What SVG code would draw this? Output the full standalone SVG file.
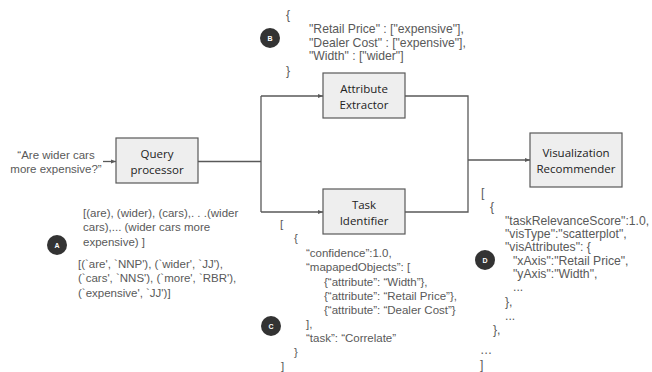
<svg xmlns="http://www.w3.org/2000/svg" width="652" height="372" viewBox="0 0 652 372">
<defs>
<style>
.box{fill:#eeeeee;stroke:#595959;stroke-width:1.2}
.lbl{font-family:"Open Sans","Liberation Sans",sans-serif;font-size:11.5px;fill:#222;text-anchor:middle}
.t{font-family:"Liberation Sans",Arial,sans-serif;font-size:12.2px;fill:#595959}
.s{font-size:11.5px}
.badge{fill:#333}
.bt{font-family:"Liberation Sans",Arial,sans-serif;font-size:7px;font-weight:bold;fill:#fff;text-anchor:middle}
.ln{fill:none;stroke:#595959;stroke-width:1.3}
</style>
<marker id="ah" viewBox="0 0 10 10" refX="10" refY="5" markerWidth="5" markerHeight="5" orient="auto" markerUnits="userSpaceOnUse">
<path d="M0,1 L10,5 L0,9 z" fill="#595959"/>
</marker>
</defs>
<rect width="652" height="372" fill="#fff"/>
<g id="connectors">
<path class="ln" d="M103,161.5 H116" marker-end="url(#ah)"/>
<path class="ln" d="M198,161.5 H261 M261,96 V212"/>
<path class="ln" d="M261,96 H323" marker-end="url(#ah)"/>
<path class="ln" d="M261,212 H323" marker-end="url(#ah)"/>
<path class="ln" d="M405,96 H468 V212 H405"/>
<path class="ln" d="M468,160 H530" marker-end="url(#ah)"/>
</g>
<g id="query-processor">
<rect class="box" x="116" y="138" width="82" height="45"/>
<text class="lbl" x="157" y="158">Query</text>
<text class="lbl" x="157" y="174">processor</text>
</g>
<g id="attribute-extractor">
<rect class="box" x="323" y="73" width="82" height="45"/>
<text class="lbl" x="364" y="93">Attribute</text>
<text class="lbl" x="364" y="109">Extractor</text>
</g>
<g id="task-identifier">
<rect class="box" x="323" y="189" width="82" height="45"/>
<text class="lbl" x="364" y="209">Task</text>
<text class="lbl" x="364" y="225">Identifier</text>
</g>
<g id="visualization-recommender">
<rect class="box" x="530" y="133" width="92" height="54"/>
<text class="lbl" x="576" y="157">Visualization</text>
<text class="lbl" x="576" y="173">Recommender</text>
</g>
<g id="input">
<text class="t s" x="56" y="159" text-anchor="middle">“Are wider cars</text>
<text class="t s" x="56" y="173" text-anchor="middle">more expensive?”</text>
</g>
<g id="output-a">
<circle class="badge" cx="57" cy="245" r="10"/>
<text class="bt" x="57" y="247.5">A</text>
<text class="t s" x="83" y="216.5">[(are), (wider), (cars),. . .(wider</text>
<text class="t s" x="83" y="231">cars),... (wider cars more</text>
<text class="t s" x="83" y="245.5">expensive) ]</text>
<text class="t s" x="78" y="267.5">[(`are', `NNP'), (`wider', `JJ'),</text>
<text class="t s" x="78" y="282">(`cars', `NNS'), (`more', `RBR'),</text>
<text class="t s" x="78" y="296.5">(`expensive', `JJ')]</text>
</g>
<g id="output-b">
<circle class="badge" cx="270" cy="38" r="10"/>
<text class="bt" x="270" y="40.5">B</text>
<text class="t" x="286" y="19">{</text>
<text class="t" x="309" y="32.5">"Retail Price" : ["expensive"],</text>
<text class="t" x="309" y="46.5">"Dealer Cost" : ["expensive"],</text>
<text class="t" x="309" y="60">"Width" : ["wider"]</text>
<text class="t" x="286" y="74.5">}</text>
</g>
<g id="output-c">
<circle class="badge" cx="271" cy="326" r="10"/>
<text class="bt" x="271" y="328.5">C</text>
<text class="t s" x="280" y="227.5">[</text>
<text class="t s" x="294" y="241.5">{</text>
<text class="t s" x="306" y="256.5">“confidence”:1.0,</text>
<text class="t s" x="306" y="271">“mapapedObjects”:  [</text>
<text class="t s" x="324" y="285.5">{“attribute”: “Width”},</text>
<text class="t s" x="324" y="299.5">{“attribute”: “Retail Price”},</text>
<text class="t s" x="324" y="313.5">{“attribute”: “Dealer Cost”}</text>
<text class="t s" x="306" y="327.5">],</text>
<text class="t s" x="306" y="342">“task”: “Correlate”</text>
<text class="t s" x="294" y="356">}</text>
<text class="t s" x="281" y="370">]</text>
</g>
<g id="output-d">
<circle class="badge" cx="485" cy="260" r="10"/>
<text class="bt" x="485" y="262.5">D</text>
<text class="t" x="481" y="196.5">[</text>
<text class="t" x="490" y="211">{</text>
<text class="t" x="505" y="224.5">"taskRelevanceScore":1.0,</text>
<text class="t" x="505" y="237.5">"visType":"scatterplot",</text>
<text class="t" x="505" y="251">"visAttributes": {</text>
<text class="t" x="513" y="264.5">"xAxis":"Retail Price",</text>
<text class="t" x="513" y="277.5">"yAxis":"Width",</text>
<text class="t" x="513" y="291">...</text>
<text class="t" x="505" y="305.5">},</text>
<text class="t" x="505" y="320">...</text>
<text class="t" x="493" y="334">},</text>
<text class="t" x="480" y="354">…</text>
<text class="t" x="480" y="368.5">]</text>
</g>
</svg>
